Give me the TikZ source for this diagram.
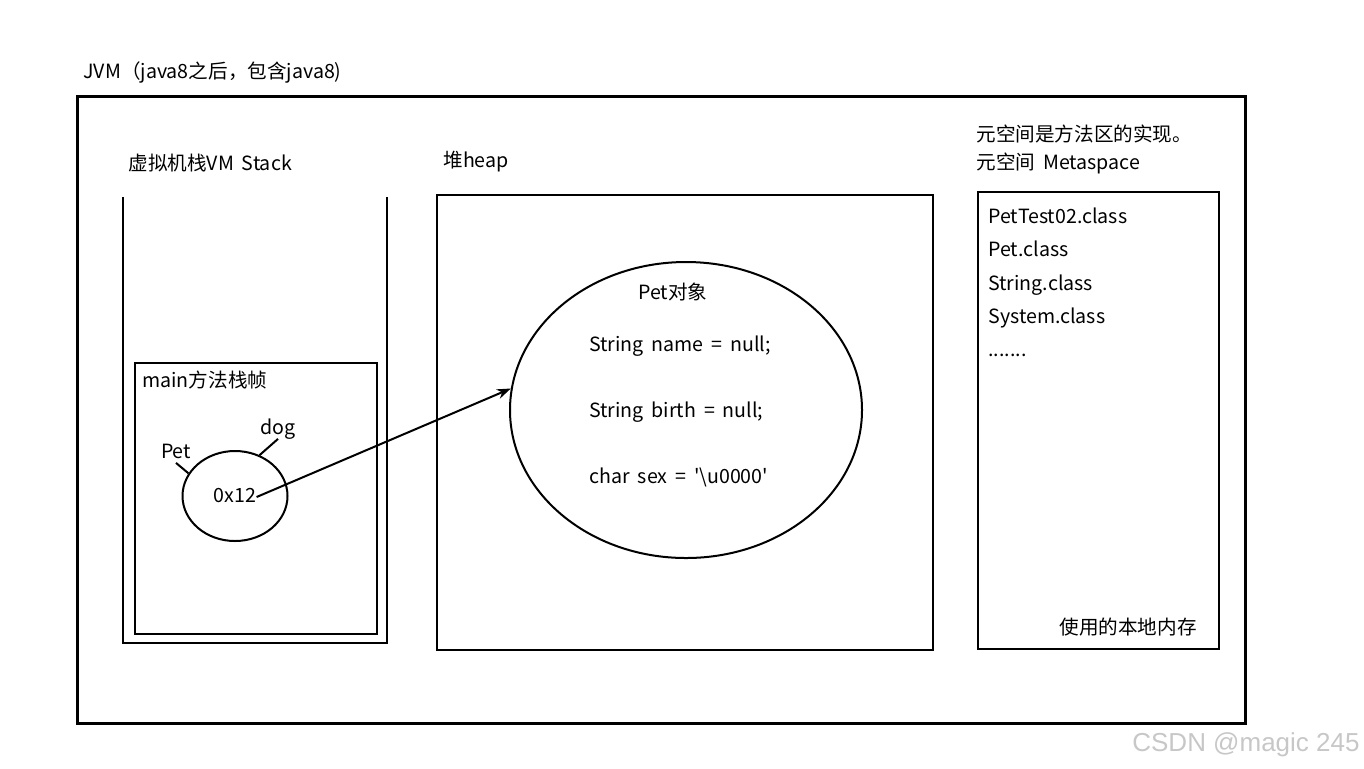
\documentclass[tikz,border=0pt]{standalone}
\usepackage{fontspec}
\setmainfont{Noto Sans CJK SC}[Ligatures=TeXOff,WordSpace=1.8]
\newfontfamily\markfont{Liberation Sans}
\usetikzlibrary{arrows.meta,shapes.geometric,positioning}
\newcommand{\moredots}{.......}
\tikzset{
  frame/.style={draw,line width=1.3pt},
  lbl/.style={inner sep=0pt,anchor=west,text height=7.5pt,text depth=2pt,
    font=\fontsize{9.8}{11}\selectfont},
  blob/.style={draw,ellipse,line width=1pt,inner sep=0pt},
  ptr/.style={-{Stealth[length=7pt,width=5pt]},line width=1pt},
  tag/.style={line width=1pt},
}
\begin{document}
\begin{tikzpicture}[x=0.5pt,y=-0.5pt]
  \useasboundingbox (0,0) rectangle (1364,768);
  % JVM as a whole
  \node[lbl] (jvm) at (83,73) {JVM（java8之后，包含java8)};
  \draw[frame,line width=1.5pt] (77,96) rectangle (1245,723);
  % stack
  \node[lbl] (stacklbl) at (128,165) {虚拟机栈VM Stack};
  \draw[frame] (123,197) -- (123,643) -- (387,643) -- (387,197);
  \draw[frame] (135,363) rectangle (377,634);
  \node[lbl] (framelbl) at (142,382) {main方法栈帧};
  \node[blob,minimum width=52.5pt,minimum height=45pt] (ref) at (235,496) {};
  \node[lbl,anchor=center] (addr) at (235,497) {0x12};
  \node[lbl,anchor=center] (pettype) at (176,453) {Pet};
  \node[lbl,anchor=center] (varname) at (278,429) {dog};
  \draw[tag] (pettype.south) -- (ref.154);
  \draw[tag] (varname.south) -- (ref.59);
  % heap
  \node[lbl] (heaplbl) at (443,162) {堆heap};
  \draw[frame] (437,195) rectangle (933,650);
  \node[blob,minimum width=176pt,minimum height=148pt] (obj) at (686,410) {};
  \node[lbl,anchor=center] (objlbl) at (673,294) {Pet对象};
  \node[lbl] (fname) at (589,346) {String name = null;};
  \node[lbl] (fbirth) at (589,412) {String birth = null;};
  \node[lbl] (fsex) at (589,478) {char sex = '\textbackslash u0000'};
  \draw[ptr] (addr.east) -- (obj.173);
  % metaspace
  \node[lbl] (metanote) at (976,136) {元空间是方法区的实现。};
  \node[lbl] (metalbl) at (976,164) {元空间 Metaspace};
  \draw[frame] (978,192) rectangle (1219,649);
  \foreach \cname [count=\i] in {PetTest02.class,Pet.class,String.class,System.class,\moredots}
    \node[lbl] (cls\i) at (988,{218+33.3*(\i-1)}) {\cname};
  \node[lbl,anchor=east] (native) at (1197,629) {使用的本地内存};
  \node[anchor=east,inner sep=0pt,text=black!22,font=\markfont\fontsize{13}{15}\selectfont]
    (mark) at (1360,745) {CSDN @magic 245};
\end{tikzpicture}
\end{document}
